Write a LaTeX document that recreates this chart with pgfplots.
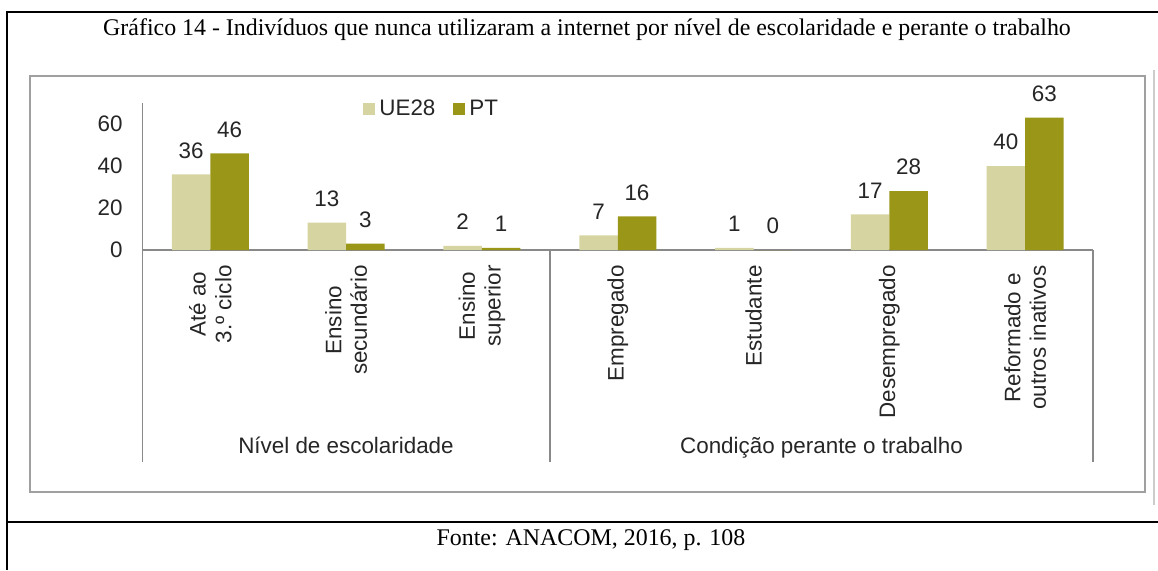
\documentclass[border=0pt]{standalone}
\usepackage{fontspec}
\setmainfont{Liberation Sans}
\newfontfamily\timesf{Liberation Serif}
\usepackage{pgfplots}
\pgfplotsset{compat=1.18}
\definecolor{ue}{RGB}{214,212,161}
\definecolor{ptc}{RGB}{154,150,24}
\definecolor{axg}{RGB}{137,137,137}
\definecolor{boxg}{RGB}{160,160,160}
\definecolor{txt}{RGB}{38,38,38}
\newcommand{\cf}{\fontsize{11.2}{12.8}\selectfont}
\begin{document}
\begin{tikzpicture}
\begin{scope}[x=0.5pt,y=-0.5pt]
\path[use as bounding box] (0,0) rectangle (1158,570);
\draw[line width=0.75pt] (7,570) -- (7,12) -- (1158,12);
\draw[line width=0.75pt] (7,522) -- (1158,522);
\node[font=\timesf\fontsize{11.95}{14}\selectfont, anchor=base, inner sep=0pt] at (587,35) {Gráfico 14 - Indivíduos que nunca utilizaram a internet por nível de escolaridade e perante o trabalho};
\node[font=\timesf\fontsize{11.95}{14}\selectfont, anchor=base, inner sep=0pt] at (591,545) {Fonte: ANACOM, 2016, p. 108};
\draw[boxg, line width=1pt] (30,76) rectangle (1145,492);
\draw[black!20, line width=1pt] (1154,70) -- (1154,505);
\draw[axg, line width=0.85pt] (142.5,250) -- (142.5,462);
\draw[axg, line width=0.85pt] (550,250) -- (550,462);
\draw[axg, line width=0.85pt] (1093,250) -- (1093,462);
\node[font=\cf, text=txt, anchor=base, inner sep=0pt] at (346,453) {Nível de escolaridade};
\node[font=\cf, text=txt, anchor=base, inner sep=0pt] at (821.5,453) {Condição perante o trabalho};
\end{scope}
\begin{axis}[
  at={(71.25pt,-125pt)}, anchor=south west,
  scale only axis, width=475.25pt, height=73.5pt,
  xmin=-0.5, xmax=6.5, ymin=0, ymax=70,
  clip=false,
  ybar=0pt, bar width=19.25pt,
  axis x line=bottom, axis y line=left,
  axis line style={axg, line width=0.85pt, -},
  major tick length=0pt,
  ytick={0,20,40,60},
  xtick={0,1,2,3,4,5,6},
  xticklabels={{Até ao\\3.º ciclo},{Ensino\\secundário},{Ensino\\superior},Empregado,Estudante,Desempregado,{Reformado e\\outros inativos}},
  xticklabel style={inner sep=0pt, anchor=east, yshift=-7.5pt, rotate=90, align=center, font=\cf, text=txt},
  yticklabel style={inner sep=0pt, anchor=east, xshift=-9.75pt, font=\cf, text=txt},
  /pgf/number format/assume math mode=true,
  nodes near coords,
  nodes near coords style={font=\cf, text=txt, inner sep=0pt, anchor=south, yshift=7.8pt},
  legend columns=2,
  legend style={at={(0.232,0.959)}, anchor=west, draw=none, fill=none, inner sep=0pt, font=\cf, text=txt,
    /tikz/every even column/.append style={column sep=7pt}},
]
\addplot[fill=ue, draw=none, legend image code/.code={\fill[ue] (0pt,-3pt) rectangle (6pt,3pt);}] coordinates {(0,36) (1,13) (2,2) (3,7) (4,1) (5,17) (6,40)};
\addplot[fill=ptc, draw=none, legend image code/.code={\fill[ptc] (0pt,-3pt) rectangle (6pt,3pt);}] coordinates {(0,46) (1,3) (2,1) (3,16) (4,0) (5,28) (6,63)};
\legend{UE28,PT}
\end{axis}
\end{tikzpicture}
\end{document}
